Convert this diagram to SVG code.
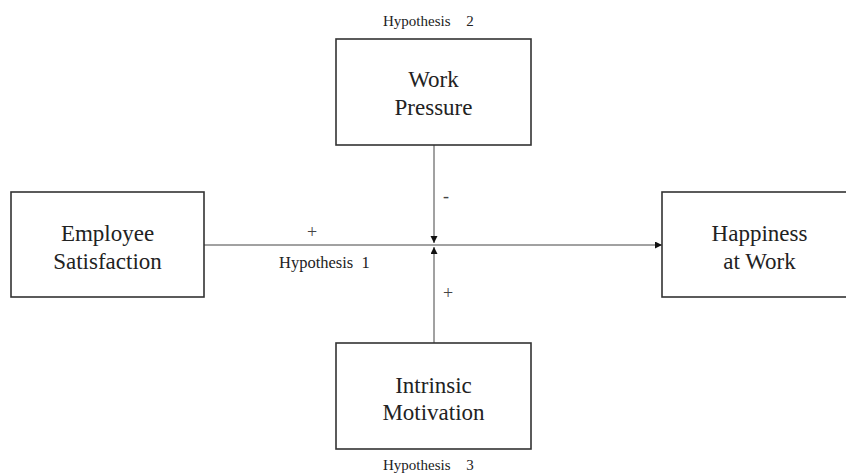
<svg xmlns="http://www.w3.org/2000/svg" width="846" height="474" viewBox="0 0 846 474">
  <style>
    .box { fill: #ffffff; stroke: #333333; stroke-width: 1.6; }
    .lbl { font-size: 23px; fill: #222222; text-anchor: middle; }
    .hyp { font-size: 15px; fill: #222222; }
    .sign { font-size: 18px; fill: #444444; text-anchor: middle; }
    .conn { stroke: #444444; stroke-width: 1; fill: none; }
  </style>
  <defs>
    <marker id="arrow" markerUnits="userSpaceOnUse" markerWidth="8" markerHeight="8" refX="7" refY="3.5" orient="auto">
      <path d="M0,0 L7,3.5 L0,7 z" fill="#111111"/>
    </marker>
  </defs>
  <rect width="846" height="474" fill="#ffffff"/>

  <g font-family="Liberation Serif, DejaVu Serif, serif">
  <g id="connectors">
    <line class="conn" x1="204" y1="245" x2="662" y2="245" marker-end="url(#arrow)"/>
    <line class="conn" x1="434" y1="145" x2="434" y2="243" marker-end="url(#arrow)"/>
    <line class="conn" x1="434" y1="343" x2="434" y2="247" marker-end="url(#arrow)"/>
    <text class="sign" x="312" y="238">+</text>
    <text class="hyp" x="279" y="268" font-size="16.5" style="font-size:16.5px" word-spacing="4">Hypothesis 1</text>
    <text class="sign" x="446" y="202">-</text>
    <text class="sign" x="448" y="299">+</text>
  </g>

  <g id="work-pressure">
    <text class="hyp" x="383" y="26" word-spacing="12">Hypothesis 2</text>
    <rect class="box" x="336" y="39" width="195" height="106"/>
    <text class="lbl" x="433.5" y="87">Work</text>
    <text class="lbl" x="433.5" y="115">Pressure</text>
  </g>

  <g id="employee-satisfaction">
    <rect class="box" x="11" y="192" width="193" height="105"/>
    <text class="lbl" x="107.5" y="241">Employee</text>
    <text class="lbl" x="107.5" y="269">Satisfaction</text>
  </g>

  <g id="happiness-at-work">
    <rect class="box" x="662" y="192" width="195" height="105"/>
    <text class="lbl" x="759.5" y="241">Happiness</text>
    <text class="lbl" x="759.5" y="268.5">at Work</text>
  </g>

  <g id="intrinsic-motivation">
    <rect class="box" x="336" y="343" width="195" height="106"/>
    <text class="lbl" x="433.5" y="393">Intrinsic</text>
    <text class="lbl" x="433.5" y="420">Motivation</text>
    <text class="hyp" x="383" y="470" word-spacing="12">Hypothesis 3</text>
  </g>
  </g>
</svg>
